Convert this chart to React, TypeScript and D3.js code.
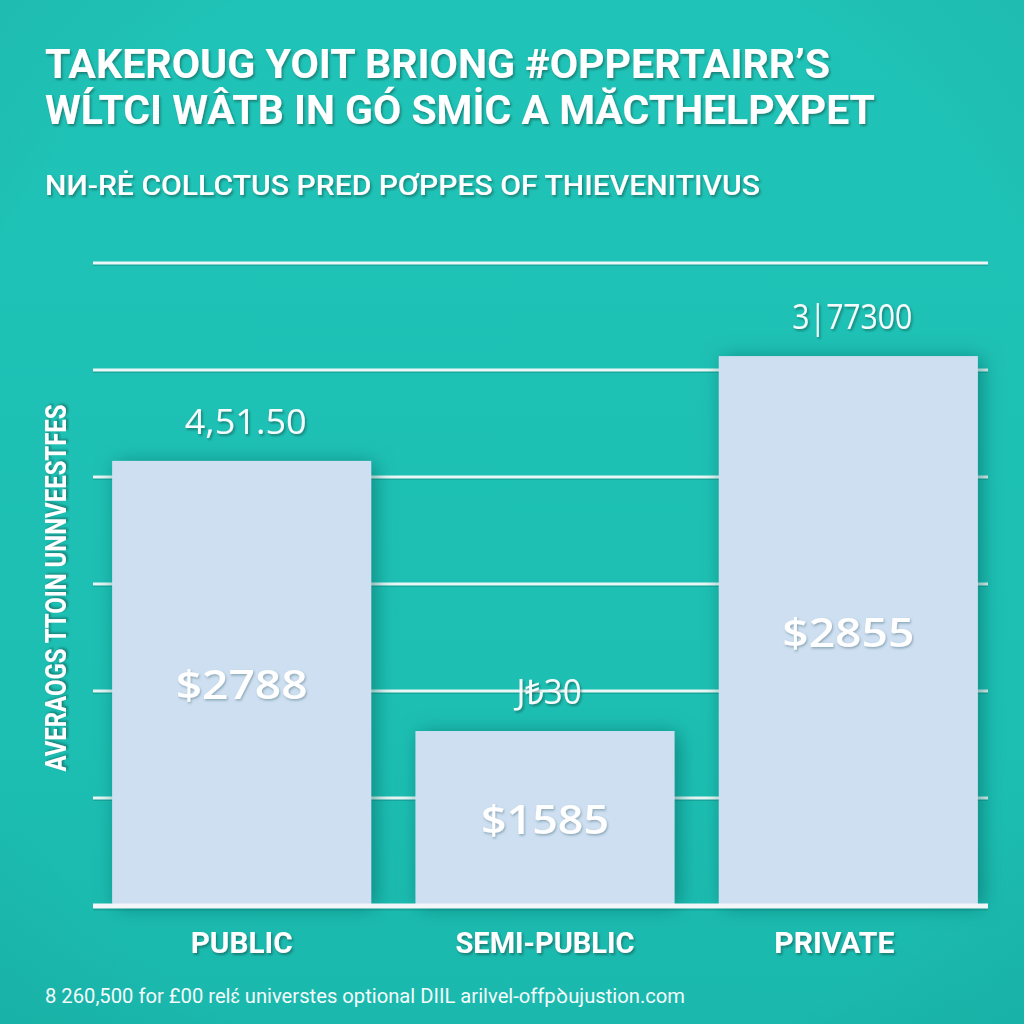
import React, { useEffect } from "react";
import * as d3 from "d3";

const titleLines = ["TAKEROUG YOIT BRIONG #OPPERTAIRR’S", "WĹTCI WÂTB IN GÓ SMİC A MĂCTHELPXPET"];
const subtitle = "NИ-RĖ COLLCTUS PRED  PƠPPES OF  THIEVENITIVUS";
const yAxisLabel = "AVERAOGS TTOIN UNNVEESTFES";
const footer = "8 260,500 for £00 relɛ́ universtes optional DIIL arilvel-offpꝺujustion.com";

const categories = ["PUBLIC", "SEMI-PUBLIC", "PRIVATE"];
const values = [2075, 813, 2565];
const topLabels = ["4,51.50", "J₺30", "3|77300"];
const innerLabels = ["$2788", "$1585", "$2855"];
const gridTicks = [500, 1000, 1500, 2000, 2500, 3000];

export default function App() {
  useEffect(() => {
    document.body.style.margin = "0";
  }, []);

  const W = 1024;
  const H = 1024;
  const y = d3.scaleLinear().domain([0, 3000]).range([905, 263]);
  const x = d3.scaleBand<string>().domain(categories).range([100, 990]).paddingInner(0.146).paddingOuter(0.04);
  const gx0 = 93;
  const gx1 = 988;

  const catWidths = [102, 179, 120];
  const topWidths = [122, 65, 120];
  const innerWidths = [132, 128, 132];

  return (
    <svg width={W} height={H} viewBox={`0 0 ${W} ${H}`} style={{ display: "block", position: "absolute", left: 0, top: 0 }}>
      <defs>
        <linearGradient id="bg" x1="0" y1="0" x2="0" y2="1">
          <stop offset="0" stopColor="#20c3b7" />
          <stop offset="0.7" stopColor="#1dbfb3" />
          <stop offset="1" stopColor="#1ab8ad" />
        </linearGradient>
        <radialGradient id="vig" cx="0.5" cy="0.5" r="0.8">
          <stop offset="0.7" stopColor="#000" stopOpacity="0" />
          <stop offset="1" stopColor="#065e58" stopOpacity="0.08" />
        </radialGradient>
        <filter id="barShadow" x="-20%" y="-20%" width="140%" height="140%">
          <feDropShadow dx="4" dy="2" stdDeviation="10" floodColor="#05645d" floodOpacity="0.6" />
        </filter>
        <filter id="txtShadow" x="-10%" y="-30%" width="120%" height="160%">
          <feDropShadow dx="1.5" dy="2" stdDeviation="1.2" floodColor="#0b4f4a" floodOpacity="0.55" />
        </filter>
        <filter id="txtShadowSoft" x="-10%" y="-30%" width="120%" height="160%">
          <feDropShadow dx="1" dy="1.5" stdDeviation="1" floodColor="#4a6f80" floodOpacity="0.5" />
        </filter>
      </defs>

      <rect x={0} y={0} width={W} height={H} fill="url(#bg)" />
      <rect x={0} y={0} width={W} height={H} fill="url(#vig)" />

      {/* Title */}
      {titleLines.map((t, i) => (
        <text
          key={i}
          x={45}
          y={78 + i * 46}
          fill="#ffffff"
          fontFamily="Roboto, 'DejaVu Sans', sans-serif"
          fontWeight={700}
          fontSize={41}
          textLength={i === 0 ? 785 : 830}
          lengthAdjust="spacingAndGlyphs"
          filter="url(#txtShadow)"
        >
          {t}
        </text>
      ))}

      <text
        x={45}
        y={195}
        fill="#ffffff"
        fontFamily="Roboto, sans-serif"
        fontWeight={500}
        fontSize={27}
        textLength={715}
        lengthAdjust="spacingAndGlyphs"
        filter="url(#txtShadow)"
      >
        {subtitle}
      </text>

      {/* Gridlines */}
      {gridTicks.map((t) => (
        <g key={t}>
          <line x1={gx0} x2={gx1} y1={y(t) + 2} y2={y(t) + 2} stroke="#0c7a72" strokeOpacity={0.35} strokeWidth={2} />
          <line x1={gx0} x2={gx1} y1={y(t)} y2={y(t)} stroke="#eaf7f6" strokeWidth={3} />
        </g>
      ))}

      {/* Bars */}
      {categories.map((c, i) => (
        <rect
          key={c}
          x={x(c)}
          y={y(values[i])}
          width={x.bandwidth()}
          height={y(0) - y(values[i])}
          fill="#cddff0"
          filter="url(#barShadow)"
        />
      ))}

      {/* Baseline */}
      <line x1={gx0} x2={gx1} y1={y(0) + 4} y2={y(0) + 4} stroke="#0c7a72" strokeOpacity={0.35} strokeWidth={3} />
      <line x1={gx0} x2={gx1} y1={y(0) + 1} y2={y(0) + 1} stroke="#f2f6f8" strokeWidth={5} />

      {/* Top labels */}
      {categories.map((c, i) => (
        <text
          key={"t" + c}
          x={(x(c) as number) + x.bandwidth() / 2 + 4}
          y={y(values[i]) - 27}
          textAnchor="middle"
          fill="#f6fcfc"
          fontFamily="'Open Sans', sans-serif"
          fontWeight={400}
          fontSize={34}
          textLength={topWidths[i]}
          lengthAdjust="spacingAndGlyphs"
          filter="url(#txtShadow)"
        >
          {topLabels[i]}
        </text>
      ))}

      {/* Inner labels */}
      {categories.map((c, i) => (
        <text
          key={"i" + c}
          x={(x(c) as number) + x.bandwidth() / 2}
          y={(y(values[i]) + y(0)) / 2 + 16}
          textAnchor="middle"
          fill="#ffffff"
          fontFamily="'Open Sans', sans-serif"
          fontWeight={600}
          fontSize={40}
          textLength={innerWidths[i]}
          lengthAdjust="spacingAndGlyphs"
          filter="url(#txtShadowSoft)"
        >
          {innerLabels[i]}
        </text>
      ))}

      {/* Category labels */}
      {categories.map((c, i) => (
        <text
          key={"c" + c}
          x={(x(c) as number) + x.bandwidth() / 2 - (i === 2 ? 14 : 0)}
          y={953}
          textAnchor="middle"
          fill="#ffffff"
          fontFamily="Roboto, sans-serif"
          fontWeight={700}
          fontSize={30}
          textLength={catWidths[i]}
          lengthAdjust="spacingAndGlyphs"
          filter="url(#txtShadow)"
        >
          {c}
        </text>
      ))}

      {/* Y axis label */}
      <text
        transform={`translate(66, 588) rotate(-90)`}
        textAnchor="middle"
        fill="#ffffff"
        fontFamily="Roboto, sans-serif"
        fontWeight={700}
        fontSize={29}
        textLength={367}
        lengthAdjust="spacingAndGlyphs"
        filter="url(#txtShadow)"
      >
        {yAxisLabel}
      </text>

      {/* Footer */}
      <text
        x={45}
        y={1003}
        fill="#f4fbfb"
        fontFamily="Roboto, sans-serif"
        fontWeight={400}
        fontSize={21}
        textLength={640}
        lengthAdjust="spacingAndGlyphs"
      >
        {footer}
      </text>
    </svg>
  );
}
